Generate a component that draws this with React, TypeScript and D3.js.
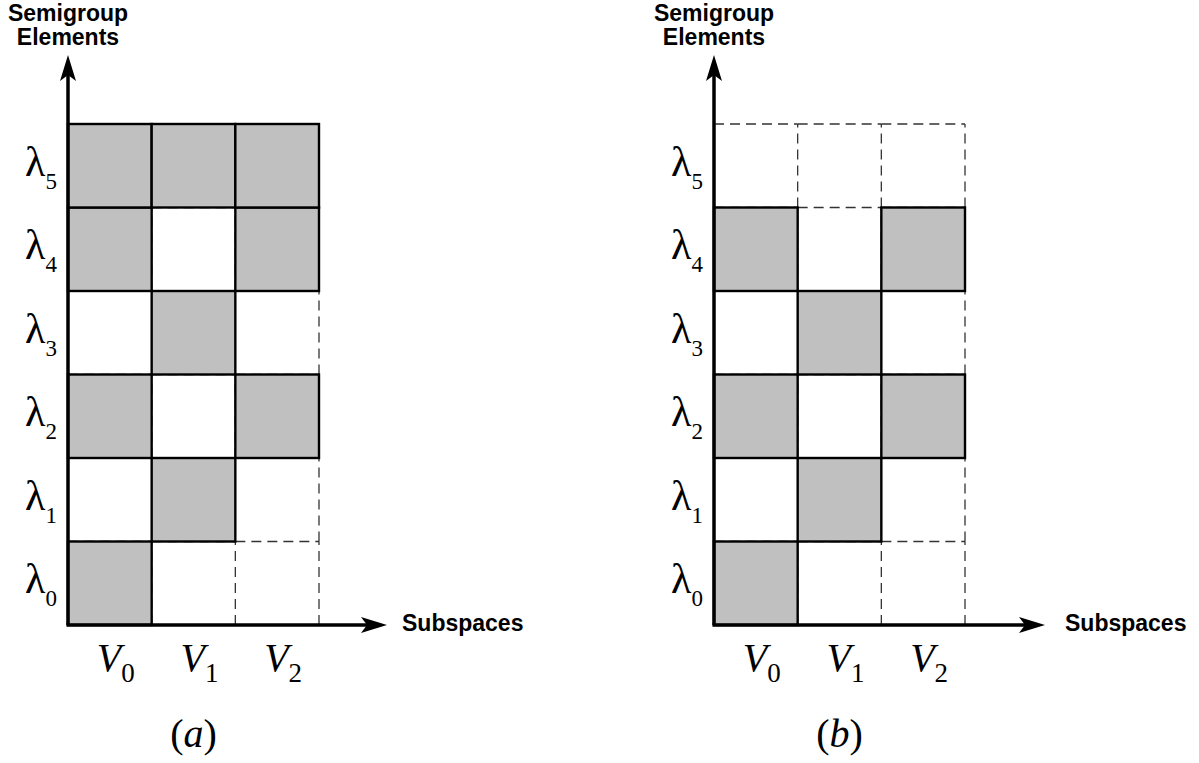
import React from 'react';
import * as d3 from 'd3';

// subspace indices (columns) and semigroup element indices (rows, bottom to top)
const subspaces = ['0', '1', '2'];
const elements = ['0', '1', '2', '3', '4', '5'];

// 1 = shaded cell, 0 = empty; rows are λ0..λ5, columns V0..V2
const panelA = [
  [1, 0, 0],
  [0, 1, 0],
  [1, 0, 1],
  [0, 1, 0],
  [1, 0, 1],
  [1, 1, 1],
];
const panelB = [
  [1, 0, 0],
  [0, 1, 0],
  [1, 0, 1],
  [0, 1, 0],
  [1, 0, 1],
  [0, 0, 0],
];
const panelLabels = ['a', 'b'];
const yTitle = ['Semigroup', 'Elements'];
const xTitle = 'Subspaces';

const W = 1199;
const H = 763;
const FILL = '#c0c0c0';
const SANS = '"Liberation Sans", Arial, sans-serif';
const SERIF = '"Liberation Serif", "Times New Roman", serif';

interface PanelProps {
  ox: number;
  cells: number[][];
  label: string;
  axisEnd: number;
  titleGap: number;
}

const Panel: React.FC<PanelProps> = ({ ox, cells, label, axisEnd, titleGap }) => {
  const originY = 625;
  const x = d3.scaleLinear().domain([0, subspaces.length]).range([ox, ox + 251]);
  const y = d3.scaleLinear().domain([0, elements.length]).range([originY, 124]);
  const cw = x(1) - x(0);
  const ch = y(0) - y(1);

  const all = elements.flatMap((_, r) => subspaces.map((_, c) => ({ r, c, v: cells[r][c] })));
  const filled = all.filter(d => d.v === 1);

  // unique grid edges, so the dash pattern is not drawn twice out of phase
  const edges = new Map<string, [number, number, number, number]>();
  all.forEach(({ r, c }) => {
    if (r > 0) edges.set(`h${r}-${c}`, [x(c), y(r), x(c + 1), y(r)]);
    edges.set(`h${r + 1}-${c}`, [x(c), y(r + 1), x(c + 1), y(r + 1)]);
    if (c > 0) edges.set(`v${r}-${c}`, [x(c), y(r), x(c), y(r + 1)]);
    edges.set(`v${r}-${c + 1}`, [x(c + 1), y(r), x(c + 1), y(r + 1)]);
  });

  return (
    <g>
      {[...edges.entries()].map(([k, [x1, y1, x2, y2]]) => (
        <line
          key={k}
          x1={x1}
          y1={y1}
          x2={x2}
          y2={y2}
          stroke="#333"
          strokeWidth={1.3}
          strokeDasharray="10,6"
        />
      ))}
      {filled.map(d => (
        <rect
          key={`f${d.r}-${d.c}`}
          x={x(d.c)}
          y={y(d.r + 1)}
          width={cw}
          height={ch}
          fill={FILL}
          stroke="#000"
          strokeWidth={2.4}
        />
      ))}

      {/* axes */}
      <line x1={ox} y1={originY} x2={ox} y2={70} stroke="#000" strokeWidth={3.5} />
      <path d={`M${ox},55 L${ox + 8},81 L${ox},75 L${ox - 8},81 Z`} fill="#000" />
      <line x1={ox - 1.5} y1={originY} x2={axisEnd - 10} y2={originY} stroke="#000" strokeWidth={3.5} />
      <path
        d={`M${axisEnd},${originY} L${axisEnd - 26},${originY - 8} L${axisEnd - 20},${originY} L${axisEnd - 26},${originY + 8} Z`}
        fill="#000"
      />

      {/* axis titles */}
      {yTitle.map((t, i) => (
        <text
          key={t}
          x={ox}
          y={21 + i * 24}
          textAnchor="middle"
          fontFamily={SANS}
          fontWeight="bold"
          fontSize={23}
        >
          {t}
        </text>
      ))}
      <text x={axisEnd + titleGap} y={631} fontFamily={SANS} fontWeight="bold" fontSize={23}>
        {xTitle}
      </text>

      {/* row labels */}
      {elements.map((e, r) => (
        <text key={e} x={ox - 43} y={y(r + 0.5) + 10} fontFamily={SERIF} fontSize={42}>
          λ
          <tspan fontSize={23} dy={13}>
            {e}
          </tspan>
        </text>
      ))}

      {/* column labels */}
      {subspaces.map((s, c) => (
        <text key={s} x={x(c + 0.5) - 13} y={671} fontFamily={SERIF} fontSize={40}>
          <tspan fontStyle="italic">V</tspan>
          <tspan fontSize={27} dy={11}>
            {s}
          </tspan>
        </text>
      ))}

      <text x={x(1.5)} y={747} textAnchor="middle" fontFamily={SERIF} fontSize={40}>
        (<tspan fontStyle="italic">{label}</tspan>)
      </text>
    </g>
  );
};

const App: React.FC = () => {
  return (
    <svg
      width={W}
      height={H}
      style={{ position: 'absolute', left: 0, top: 0, background: '#fff' }}
    >
      <Panel ox={68} cells={panelA} label={panelLabels[0]} axisEnd={387} titleGap={15} />
      <Panel ox={714} cells={panelB} label={panelLabels[1]} axisEnd={1045} titleGap={20} />
    </svg>
  );
};

export default App;
